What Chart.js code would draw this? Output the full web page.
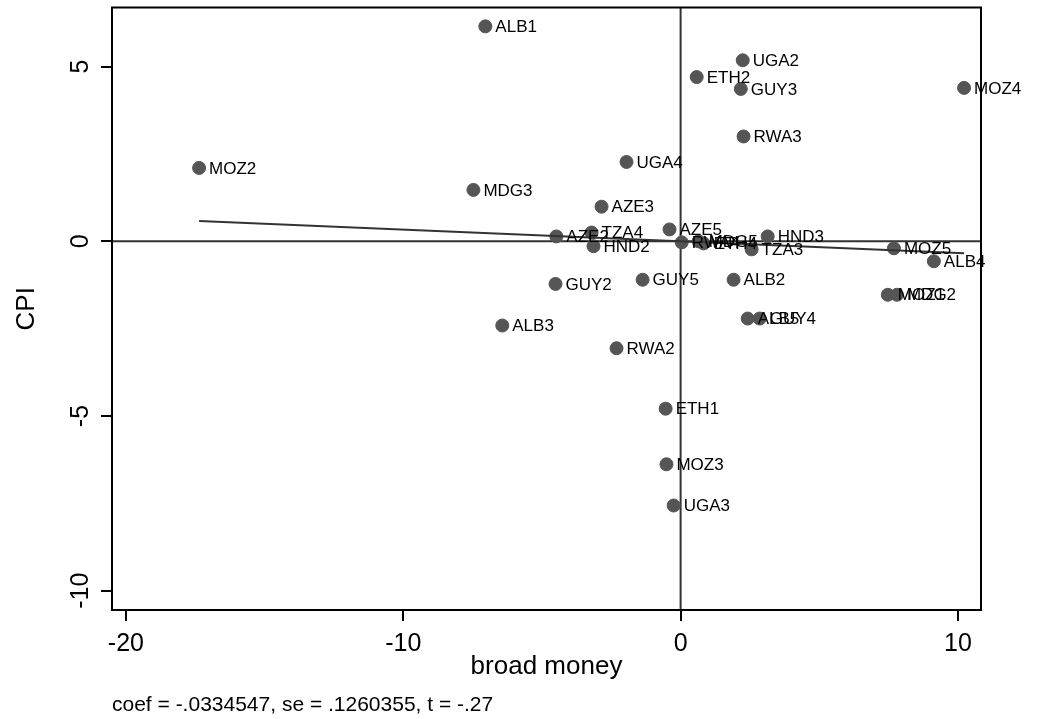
<!DOCTYPE html>
<html>
<head>
<meta charset="utf-8">
<script src="https://cdn.jsdelivr.net/npm/chart.js@4"></script>
<style>
  html, body { margin: 0; padding: 0; background: #fff; }
  #wrap { width: 1042px; height: 719px; }
</style>
</head>
<body>
<div id="wrap"><canvas id="c" width="1042" height="719"></canvas></div>
<script>
const labels = ['ALB1','UGA2','ETH2','GUY3','MOZ4','RWA3','UGA4','MOZ2','MDG3','AZE3',
  'AZE2','TZA4','HND2','AZE5','RWA4','MDG5','ETH4','HND3','TZA3','MOZ5','ALB4',
  'GUY5','GUY2','ALB2','MOZ1','MDG2','ALB5','GUY4','ALB3','RWA2','ETH1','MOZ3','UGA3'];
const broadMoney = [-7.04, 2.24, 0.58, 2.17, 10.22, 2.27, -1.95, -17.36, -7.47, -2.85,
  -4.48, -3.21, -3.14, -0.40, 0.04, 0.65, 0.83, 3.14, 2.56, 7.69, 9.13,
  -1.37, -4.51, 1.91, 7.47, 7.80, 2.42, 2.85, -6.43, -2.31, -0.54, -0.51, -0.25];
const cpi = [6.15, 5.18, 4.70, 4.36, 4.39, 3.00, 2.27, 2.10, 1.47, 0.99,
  0.14, 0.25, -0.14, 0.34, -0.03, 0.00, -0.06, 0.14, -0.23, -0.20, -0.57,
  -1.10, -1.22, -1.10, -1.53, -1.53, -2.21, -2.21, -2.41, -3.06, -4.79, -6.38, -7.56];
const xTicks = [-20, -10, 0, 10];
const yTicks = [-10, -5, 0, 5];
const coef = -0.0334547;
const note = 'coef = -.0334547, se = .1260355, t = -.27';

const font = 'Arial, "Liberation Sans", sans-serif';
const points = broadMoney.map((v, i) => ({ x: v, y: cpi[i] }));
const xMin = Math.min(...broadMoney), xMax = Math.max(...broadMoney);
const fitLine = [{ x: xMin, y: coef * xMin }, { x: xMax, y: coef * xMax }];

const extras = {
  id: 'extras',
  beforeDatasetsDraw(chart) {
    const { ctx, chartArea: a, scales: { x, y } } = chart;
    ctx.save();
    ctx.strokeStyle = '#333';
    ctx.lineWidth = 2;
    ctx.beginPath();
    ctx.moveTo(x.getPixelForValue(0), a.top);
    ctx.lineTo(x.getPixelForValue(0), a.bottom);
    ctx.moveTo(a.left, y.getPixelForValue(0));
    ctx.lineTo(a.right, y.getPixelForValue(0));
    ctx.stroke();
    ctx.restore();
  },
  afterDatasetsDraw(chart) {
    const { ctx, chartArea: a, scales: { x, y } } = chart;
    ctx.save();
    // point labels
    ctx.fillStyle = '#000';
    ctx.font = '17px ' + font;
    ctx.textBaseline = 'middle';
    ctx.textAlign = 'left';
    chart.getDatasetMeta(1).data.forEach((pt, i) => {
      ctx.fillText(labels[i], pt.x + 10, pt.y + 1);
    });
    // frame
    ctx.strokeStyle = '#000';
    ctx.lineWidth = 2;
    ctx.strokeRect(a.left, a.top, a.right - a.left, a.bottom - a.top);
    // y tick labels, rotated
    ctx.font = '25px ' + font;
    ctx.textAlign = 'center';
    ctx.textBaseline = 'middle';
    yTicks.forEach(v => {
      ctx.save();
      ctx.translate(81, y.getPixelForValue(v));
      ctx.rotate(-Math.PI / 2);
      ctx.fillText(String(v), 0, 0);
      ctx.restore();
    });
    ctx.font = '26px ' + font;
    ctx.save();
    ctx.translate(27, (a.top + a.bottom) / 2);
    ctx.rotate(-Math.PI / 2);
    ctx.fillText('CPI', 0, 0);
    ctx.restore();
    // x title and note
    ctx.fillText('broad money', (a.left + a.right) / 2, 667);
    ctx.font = '21px ' + font;
    ctx.textAlign = 'left';
    ctx.fillText(note, 112, 705);
    ctx.restore();
  }
};

const chart = new Chart(document.getElementById('c'), {
  type: 'scatter',
  data: {
    datasets: [{
      type: 'line',
      data: fitLine,
      borderColor: '#333',
      borderWidth: 2,
      pointRadius: 0,
      fill: false
    }, {
      data: points,
      backgroundColor: '#555',
      borderColor: '#555',
      pointRadius: 6.5,
      pointHoverRadius: 6.5
    }]
  },
  options: {
    responsive: false,
    animation: false,
    devicePixelRatio: 1,
    layout: { padding: { top: 2, right: 61, left: 0, bottom: 0 } },
    plugins: { legend: { display: false }, tooltip: { enabled: false } },
    scales: {
      x: {
        type: 'linear',
        min: -20.5,
        max: 10.83,
        afterBuildTicks: s => { s.ticks = xTicks.map(v => ({ value: v })); },
        afterFit: s => { s.height = 109; },
        border: { display: false },
        grid: { drawOnChartArea: false, drawTicks: true, tickLength: 11, color: '#000', lineWidth: 2 },
        ticks: { color: '#000', font: { family: font, size: 25 }, padding: 8, maxRotation: 0 }
      },
      y: {
        type: 'linear',
        min: -10.55,
        max: 6.69,
        afterBuildTicks: s => { s.ticks = yTicks.map(v => ({ value: v })); },
        afterFit: s => { s.width = 112; },
        border: { display: false },
        grid: { drawOnChartArea: false, drawTicks: true, tickLength: 11, color: '#000', lineWidth: 2 },
        ticks: { display: false }
      }
    }
  },
  plugins: [extras]
});

// pin the plot frame to where the reference has it
const pad = chart.options.layout.padding;
const area = chart.chartArea;
pad.top += 2 - area.top;
pad.right += (1042 - 981) - (1042 - area.right);
chart.update();
</script>
</body>
</html>
